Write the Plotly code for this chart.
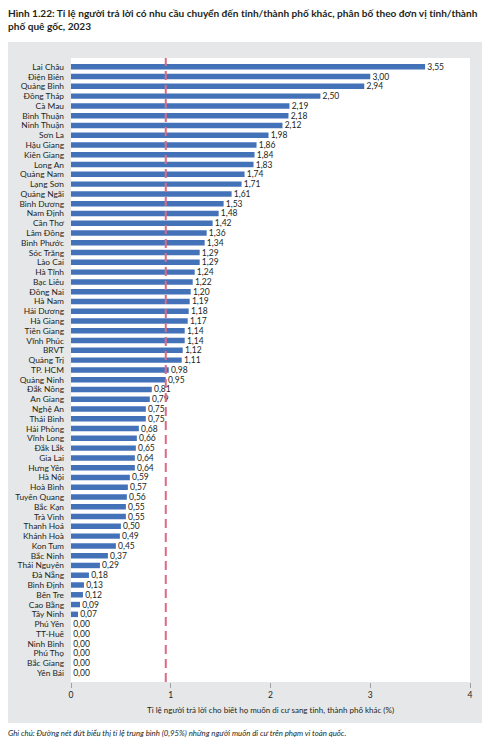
import plotly.graph_objects as go

# Data (top to bottom)
provinces = [
    "Lai Châu", "Điện Biên", "Quảng Bình", "Đồng Tháp", "Cà Mau", "Bình Thuận",
    "Ninh Thuận", "Sơn La", "Hậu Giang", "Kiên Giang", "Long An", "Quảng Nam",
    "Lạng Sơn", "Quảng Ngãi", "Bình Dương", "Nam Định", "Cần Thơ", "Lâm Đồng",
    "Bình Phước", "Sóc Trăng", "Lào Cai", "Hà Tĩnh", "Bạc Liêu", "Đồng Nai",
    "Hà Nam", "Hải Dương", "Hà Giang", "Tiền Giang", "Vĩnh Phúc", "BRVT",
    "Quảng Trị", "TP. HCM", "Quảng Ninh", "Đắk Nông", "An Giang", "Nghệ An",
    "Thái Bình", "Hải Phòng", "Vĩnh Long", "Đắk Lắk", "Gia Lai", "Hưng Yên",
    "Hà Nội", "Hoà Bình", "Tuyên Quang", "Bắc Kạn", "Trà Vinh", "Thanh Hoá",
    "Khánh Hoà", "Kon Tum", "Bắc Ninh", "Thái Nguyên", "Đà Nẵng", "Bình Định",
    "Bến Tre", "Cao Bằng", "Tây Ninh", "Phú Yên", "TT-Huế", "Ninh Bình",
    "Phú Thọ", "Bắc Giang", "Yên Bái",
]
shares = [
    3.55, 3.00, 2.94, 2.50, 2.19, 2.18,
    2.12, 1.98, 1.86, 1.84, 1.83, 1.74,
    1.71, 1.61, 1.53, 1.48, 1.42, 1.36,
    1.34, 1.29, 1.29, 1.24, 1.22, 1.20,
    1.19, 1.18, 1.17, 1.14, 1.14, 1.12,
    1.11, 0.98, 0.95, 0.81, 0.79, 0.75,
    0.75, 0.68, 0.66, 0.65, 0.64, 0.64,
    0.59, 0.57, 0.56, 0.55, 0.55, 0.50,
    0.49, 0.45, 0.37, 0.29, 0.18, 0.13,
    0.12, 0.09, 0.07, 0.00, 0.00, 0.00,
    0.00, 0.00, 0.00,
]
national_avg = 0.95
x_ticks = [0, 1, 2, 3, 4]

title_text = ("<b>Hình 1.22: Tỉ lệ người trả lời có nhu cầu chuyển đến tỉnh/thành phố khác, phân bố theo đơn vị tỉnh/thành"
              "<br>phố quê gốc, 2023</b>")
axis_title = "Tỉ lệ người trả lời cho biết họ muốn di cư sang tỉnh, thành phố khác (%)"
note_text = "<i>Ghi chú: Đường nét đứt biểu thị tỉ lệ trung bình (0,95%) những người muốn di cư trên phạm vi toàn quốc.</i>"

FONT = "Lato"
TEXT_COLOR = "#231f20"
BAR_COLOR = "#4472b9"
PANEL_GREY = "#e6e7e8"

# The page body adds an 8px offset, so the figure is 8px smaller than the window
OFF = 8
W, H = 496 - OFF, 747 - OFF
# Plot area (in reference pixels): x 71..470, y 58..682
L, R, T, B = 71 - OFF, 496 - 470, 58 - OFF, 747 - 682
pw, ph = W - L - R, H - T - B


def px_to_paper_x(px):
    # px is measured on the reference picture
    return (px - OFF - L) / pw


def px_to_paper_y(py):
    return (H - B - (py - OFF)) / ph


labels = ["\u00a0" + f"{v:.2f}".replace(".", ",") for v in shares]

fig = go.Figure()
fig.add_trace(go.Bar(
    x=shares,
    y=provinces,
    orientation="h",
    marker=dict(color=BAR_COLOR, line=dict(width=0)),
    text=labels,
    textposition="outside",
    constraintext="none",
    cliponaxis=False,
    textfont=dict(family=FONT, size=8.5, color=TEXT_COLOR),
    hoverinfo="skip",
))

n = len(provinces)
fig.update_layout(
    width=W,
    height=H,
    margin=dict(l=L, r=R, t=T, b=B, autoexpand=False),
    paper_bgcolor="white",
    plot_bgcolor="rgba(0,0,0,0)",
    showlegend=False,
    bargap=0.44,
    font=dict(family=FONT, size=9, color=TEXT_COLOR),
    xaxis=dict(
        range=[0, 4],
        tickmode="array",
        tickvals=x_ticks,
        ticktext=[str(t) for t in x_ticks],
        showgrid=False,
        zeroline=False,
        showline=False,
        ticks="outside",
        ticklen=5,
        tickwidth=1,
        tickcolor="#a0a0a0",
        automargin=False,
        tickfont=dict(family=FONT, size=8.5, color=TEXT_COLOR),
        title=dict(text=axis_title, font=dict(family=FONT, size=8, color=TEXT_COLOR), standoff=8),
    ),
    yaxis=dict(
        type="category",
        categoryorder="array",
        categoryarray=provinces,
        tickmode="array",
        tickvals=provinces,
        ticktext=provinces,
        range=[n - 1 + 0.92, -0.9],
        showgrid=False,
        zeroline=False,
        showline=False,
        ticks="",
        automargin=False,
        ticklabelstandoff=6,
        tickfont=dict(family=FONT, size=8.4, color=TEXT_COLOR),
    ),
)

# Grey panel behind the chart, then white plot area
fig.add_shape(type="rect", xref="paper", yref="paper", layer="below",
              x0=px_to_paper_x(7), x1=px_to_paper_x(482),
              y0=px_to_paper_y(723), y1=px_to_paper_y(42),
              fillcolor=PANEL_GREY, line=dict(width=0))
fig.add_shape(type="rect", xref="paper", yref="paper", layer="below",
              x0=0, x1=1, y0=0, y1=1,
              fillcolor="white", line=dict(width=0))

# Dashed line for national average
fig.add_shape(type="line", xref="x", yref="paper",
              x0=national_avg, x1=national_avg, y0=0, y1=1,
              line=dict(color="#dc6a82", width=2, dash="9px,5px"))

fig.add_annotation(
    text=title_text, xref="paper", yref="paper",
    x=px_to_paper_x(6), y=px_to_paper_y(5),
    xanchor="left", yanchor="top", align="left", showarrow=False,
    font=dict(family=FONT, size=10.1, color=TEXT_COLOR),
)
fig.add_annotation(
    text=note_text, xref="paper", yref="paper",
    x=px_to_paper_x(6), y=px_to_paper_y(733),
    xanchor="left", yanchor="middle", align="left", showarrow=False,
    font=dict(family=FONT, size=7.8, color=TEXT_COLOR),
)

fig.write_html("out.html")
